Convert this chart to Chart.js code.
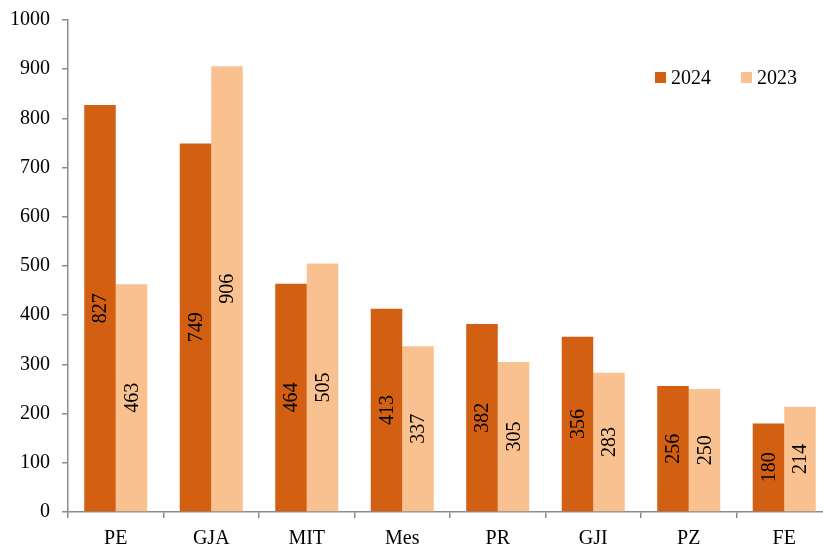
<!DOCTYPE html>
<html lang="en">
<head>
    <meta charset="UTF-8">
    <title>2024 vs 2023</title>
    <script src="https://cdn.jsdelivr.net/npm/chart.js"></script>
    <style>
        body { margin: 0; overflow: hidden; background: #fff; }
        .chart-container { width: 832px; height: 545px; }
    </style>
</head>
<body>
    <div class="chart-container">
        <canvas id="barChart"></canvas>
    </div>

    <script>
        const categories = ['PE', 'GJA', 'MIT', 'Mes', 'PR', 'GJI', 'PZ', 'FE'];
        const values2024 = [827, 749, 464, 413, 382, 356, 256, 180];
        const values2023 = [463, 906, 505, 337, 305, 283, 250, 214];
        const yTicks = [0, 100, 200, 300, 400, 500, 600, 700, 800, 900, 1000];

        const FONT = '"Times New Roman", "Liberation Serif", serif';
        const axisGray = '#8c8c8c';

        // numbers written vertically in the middle of each bar
        const barLabels = {
            id: 'barLabels',
            afterDatasetsDraw(chart) {
                const ctx = chart.ctx;
                ctx.save();
                ctx.font = '20px ' + FONT;
                ctx.fillStyle = '#000';
                ctx.textAlign = 'center';
                ctx.textBaseline = 'middle';
                chart.data.datasets.forEach((ds, i) => {
                    chart.getDatasetMeta(i).data.forEach((bar, j) => {
                        ctx.save();
                        ctx.translate(bar.x, (bar.y + bar.base) / 2);
                        ctx.rotate(-Math.PI / 2);
                        ctx.fillText(String(ds.data[j]), 0, 1);
                        ctx.restore();
                    });
                });
                ctx.restore();
            }
        };

        // legend inside the plot, top right
        const innerLegend = {
            id: 'innerLegend',
            afterDraw(chart) {
                const ctx = chart.ctx;
                const y = 77.5;
                let x = 655;
                ctx.save();
                ctx.font = '20px ' + FONT;
                ctx.textBaseline = 'middle';
                ctx.textAlign = 'left';
                chart.data.datasets.forEach(ds => {
                    ctx.fillStyle = ds.backgroundColor;
                    ctx.fillRect(x, y - 5.5, 11, 11);
                    ctx.fillStyle = '#000';
                    ctx.fillText(ds.label, x + 16, y + 1);
                    x += 86;
                });
                ctx.restore();
            }
        };

        new Chart(document.getElementById('barChart'), {
            type: 'bar',
            data: {
                labels: categories,
                datasets: [
                    { label: '2024', data: values2024, backgroundColor: '#d25f12' },
                    { label: '2023', data: values2023, backgroundColor: '#f9c190' }
                ]
            },
            options: {
                responsive: true,
                maintainAspectRatio: false,
                animation: false,
                layout: { padding: { top: 20, left: 0, right: 0, bottom: 0 } },
                datasets: {
                    bar: { categoryPercentage: 0.66, barPercentage: 1.0 }
                },
                plugins: {
                    legend: { display: false },
                    tooltip: { enabled: false }
                },
                scales: {
                    x: {
                        grid: { offset: true, drawOnChartArea: false, tickLength: 6, color: axisGray, lineWidth: 1.5 },
                        border: { color: axisGray, width: 1.5 },
                        ticks: { color: '#000', font: { family: FONT, size: 20 }, padding: 9 },
                        afterFit(scale) { scale.height = 33; }
                    },
                    y: {
                        min: 0,
                        max: 1000,
                        afterBuildTicks(scale) { scale.ticks = yTicks.map(v => ({ value: v })); },
                        grid: { drawOnChartArea: false, tickLength: 6, color: axisGray, lineWidth: 1.5 },
                        border: { color: axisGray, width: 1.5 },
                        ticks: {
                            color: '#000',
                            font: { family: FONT, size: 20 },
                            padding: 12,
                            callback: v => String(v)
                        },
                        afterFit(scale) {
                            scale.width = 68;
                            scale.paddingTop = 0;
                            scale.paddingBottom = 0;
                        }
                    }
                }
            },
            plugins: [barLabels, innerLegend]
        });
    </script>
</body>
</html>
